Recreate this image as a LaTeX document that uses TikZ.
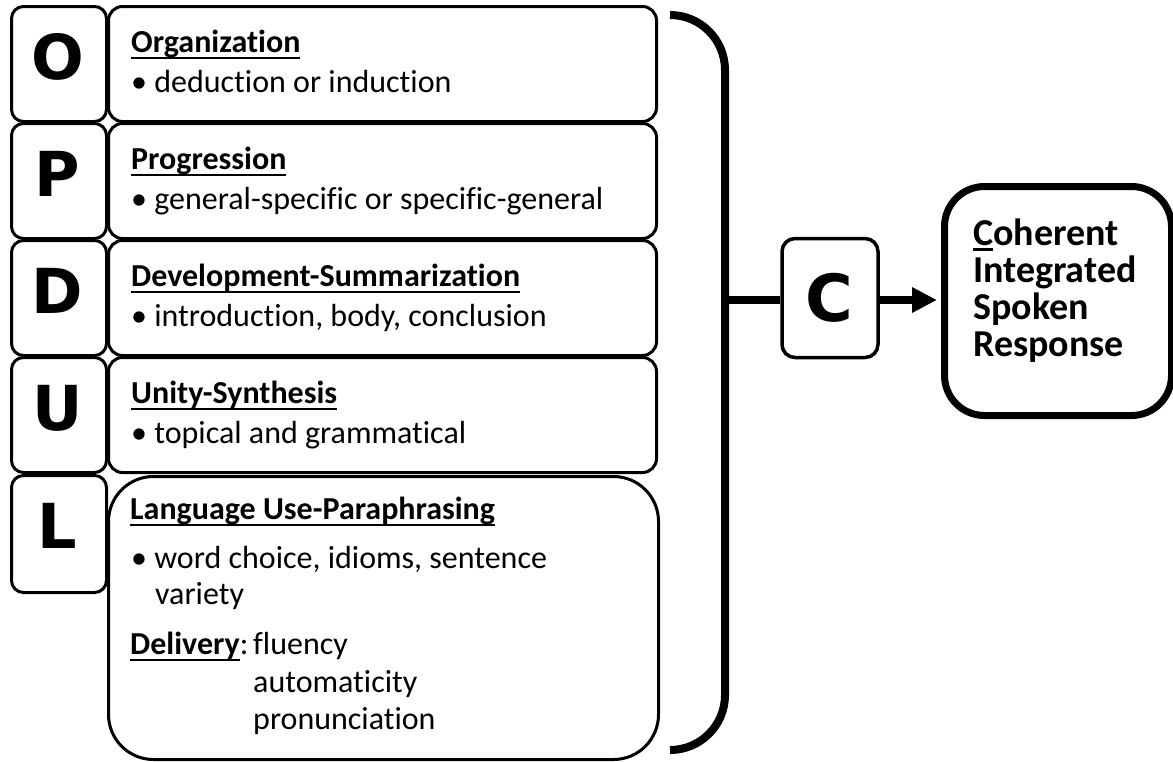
\documentclass[tikz,border=0pt]{standalone}
\usepackage{fontspec}
\setmainfont{Carlito}[Ligatures=NoCommon]
\newfontfamily\lettfont{DejaVu Sans}
\usetikzlibrary{arrows.meta}

% underlined word, rule a little below the baseline
\newcommand\ulword[2][7.3pt]{\setbox0=\hbox{#2}\rlap{\rule[-#1]{\wd0}{2.7pt}}\box0}

\tikzset{
  letterbox/.style={draw, line width=3pt, rounded corners=12pt, minimum width=95pt,
    minimum height=115pt, inner sep=0pt, anchor=north west},
  textbox/.style={draw, line width=3pt, rounded corners=14pt, minimum width=548pt,
    minimum height=115pt, inner sep=0pt, anchor=north west},
  letter/.style={anchor=base, inner sep=0pt, font=\lettfont\bfseries\fontsize{62}{62}\selectfont},
  head/.style={anchor=base west, inner sep=0pt, font=\fontsize{32}{37}\selectfont\bfseries},
  item/.style={anchor=base west, inner sep=0pt, font=\fontsize{32}{37}\selectfont},
  result/.style={anchor=base west, inner sep=0pt, font=\fontsize{38}{38}\selectfont\bfseries},
}

\begin{document}
\begin{tikzpicture}[x=1pt, y=-1pt]
    \useasboundingbox (0,0) rectangle (1173,761);

    % Letter column
    \node[letterbox] (boxO) at (10,5) {};
    \node[letterbox] (boxP) at (10,122) {};
    \node[letterbox] (boxD) at (10,239) {};
    \node[letterbox] (boxU) at (10,356) {};
    \node[letterbox, minimum height=117pt] (boxL) at (10,474) {};
    \node[letter] (lettO) at (57.5,79) {O};
    \node[letter] (lettP) at (57.5,196) {P};
    \node[letter] (lettD) at (57.5,313) {D};
    \node[letter] (lettU) at (57.5,430) {U};
    \node[letter] (lettL) at (57.5,548) {L};

    % Organization
    \node[textbox] (orgBox) at (107,5) {};
    \node[head] (orgHead) at (131,52) {\ulword{Organization}};
    \node[item] (orgItem) at (131,92) {• deduction or induction};

    % Progression
    \node[textbox] (progBox) at (107,122) {};
    \node[head] (progHead) at (131,169) {\ulword{Progression}};
    \node[item] (progItem) at (131,209) {• general-specific or specific-general};

    % Development-Summarization
    \node[textbox] (devBox) at (107,239) {};
    \node[head] (devHead) at (131,286) {\ulword{Development-Summarization}};
    \node[item] (devItem) at (131,326) {• introduction, body, conclusion};

    % Unity-Synthesis
    \node[textbox] (unityBox) at (107,356) {};
    \node[head] (unityHead) at (131,403) {\ulword{Unity-Synthesis}};
    \node[item] (unityItem) at (131,443) {• topical and grammatical};

    % Language Use-Paraphrasing and Delivery
    \node[textbox, minimum width=550pt, minimum height=283pt, rounded corners=45pt] (langBox) at (107,475) {};
    \node[head] (langHead) at (130,519) {\ulword{Language Use-Paraphrasing}};
    \node[item] (langItem) at (131,568) {• word choice, idioms, sentence};
    \node[item] (langMore) at (155,604) {variety};
    \node[item] (delivHead) at (130,654) {\ulword{\bfseries Delivery}:};
    \node[item] (delivA) at (253,654) {fluency};
    \node[item] (delivB) at (253,692) {automaticity};
    \node[item] (delivC) at (253,729) {pronunciation};

    % Bracket
    \draw[line width=8pt, rounded corners=55pt] (670,15) -- (725,15) -- (725,750) -- (670,750);
    \coordinate (join) at (725,300);

    % C box
    \node[draw, line width=3.5pt, rounded corners=13pt, minimum width=96pt, minimum height=119pt,
      inner sep=0pt] (cBox) at (830,298) {};
    \node[letter, font=\lettfont\bfseries\fontsize{65}{65}\selectfont] (lettC) at (829,321) {C};

    % Result box
    \node[draw, line width=7pt, rounded corners=40pt, minimum width=227pt, minimum height=229pt,
      inner sep=0pt, anchor=north west] (resBox) at (941,183) {};
    \node[result] (resA) at (973,245) {\ulword[5.7pt]{C}oherent};
    \node[result] (resB) at (973,282) {Integrated};
    \node[result] (resC) at (973,319) {Spoken};
    \node[result] (resD) at (973,356) {Response};

    % Connectors
    \draw[line width=8pt] (join) -- (join -| cBox.west);
    \draw[line width=8pt, -{Triangle[length=25pt, width=24pt]}, shorten >=4pt] (cBox.east |- join) -- (join -| resBox.west);

\end{tikzpicture}
\end{document}
